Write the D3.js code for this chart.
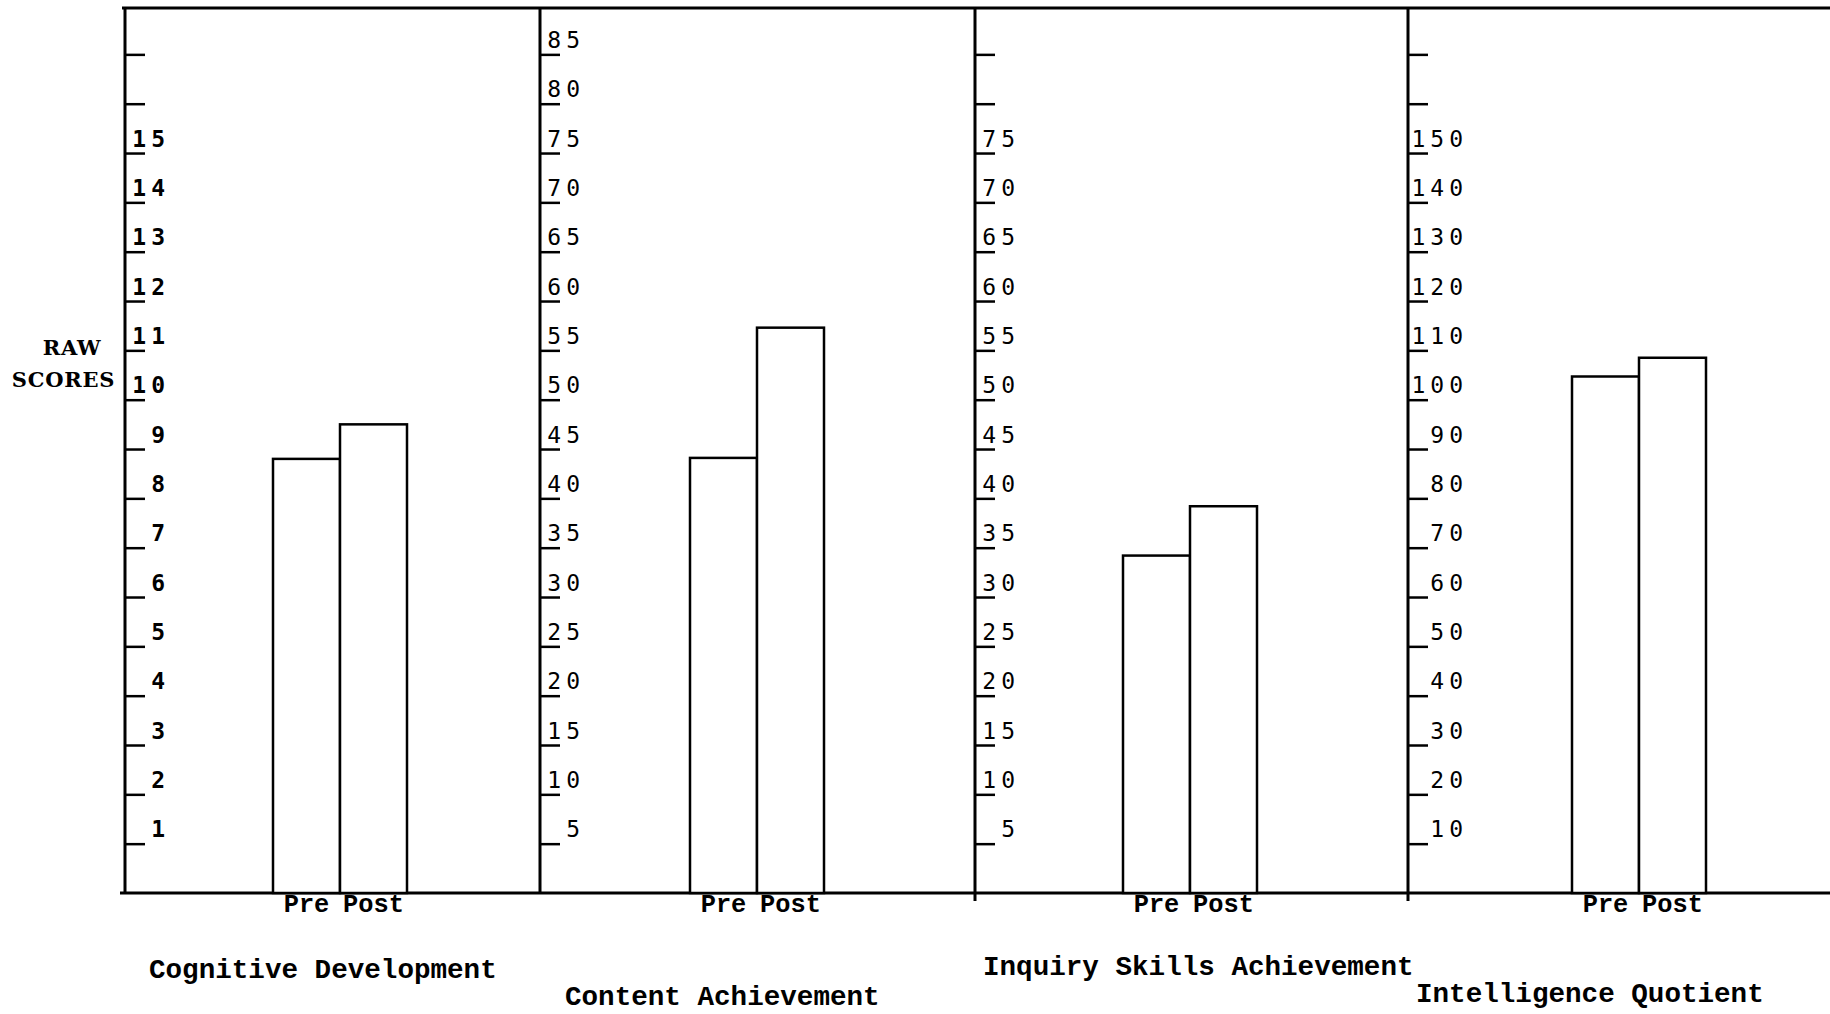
<!DOCTYPE html>
<html><head><meta charset="utf-8">
<script src="https://cdn.jsdelivr.net/npm/d3@7"></script>
<style>html,body{margin:0;padding:0;background:#fff}svg{display:block}</style>
</head><body><svg id="chart" width="1830" height="1014"></svg>
<script>
// ---- data ----
const categories = ["Cognitive Development", "Content Achievement", "Inquiry Skills Achievement", "Intelligence Quotient"];
const phases = ["Pre", "Post"];
const preScores = [8.8, 44.1, 34.2, 104.7];
const postScores = [9.5, 57.3, 39.2, 108.5];
const tickSteps = [1, 5, 5, 10];
const tickCount = 17;
const labelMax = [15, 85, 75, 150];
const yAxisTitle = ["RAW", "SCORES"];

// ---- layout ----
const W = 1830, H = 1014;
const plotTop = 8, plotBase = 893, unitMax = 17.94;
const panelLeft = [125, 540, 975, 1408];
const barOffset = [148, 150, 148, 164];
const barPairWidth = 134;
const labelRight = [40, 40, 40, 55];
const labelWeight = ["bold", "normal", "normal", "normal"];
const titleDx = [24, 25, 8, 8];
const titleY = [978, 1005, 975, 1002];

const svg = d3.select("#chart");
svg.append("rect").attr("width", W).attr("height", H).attr("fill", "#fff");

// frame lines
svg.append("line").attr("x1", 122).attr("x2", W).attr("y1", plotTop).attr("y2", plotTop)
  .attr("stroke", "#000").attr("stroke-width", 3);
svg.append("line").attr("x1", 120).attr("x2", W).attr("y1", plotBase).attr("y2", plotBase)
  .attr("stroke", "#000").attr("stroke-width", 3);

categories.forEach((cat, i) => {
  const step = tickSteps[i];
  const y = d3.scaleLinear().domain([0, unitMax * step]).range([plotBase, plotTop]);
  const x = d3.scaleBand().domain(phases)
    .range([panelLeft[i] + barOffset[i], panelLeft[i] + barOffset[i] + barPairWidth]).padding(0);
  const vals = [preScores[i], postScores[i]];

  const g = svg.append("g");

  // vertical axis line
  g.append("line").attr("x1", panelLeft[i]).attr("x2", panelLeft[i])
    .attr("y1", plotTop - 1).attr("y2", plotBase + (i >= 2 ? 8 : 1))
    .attr("stroke", "#000").attr("stroke-width", 3);

  // ticks
  const axis = d3.axisRight(y)
    .tickValues(d3.range(1, tickCount + 1).map(k => k * step))
    .tickSize(20)
    .tickFormat(d => d <= labelMax[i] ? d3.format("d")(d) : "");
  const ag = g.append("g").attr("transform", `translate(${panelLeft[i]},0)`).call(axis);
  ag.select(".domain").remove();
  ag.selectAll(".tick line").attr("stroke", "#000").attr("stroke-width", 2.5);
  ag.attr("font-family", "'DejaVu Sans Mono', monospace").attr("font-size", 23);
  ag.selectAll(".tick text")
    .attr("x", labelRight[i] + 5)
    .attr("dy", -7)
    .attr("text-anchor", "end")
    .attr("fill", "#000")
    .attr("font-weight", labelWeight[i])
    .style("letter-spacing", "5px");

  // bars
  g.selectAll("rect.bar").data(phases).enter().append("rect")
    .attr("class", "bar")
    .attr("x", p => x(p))
    .attr("y", (p, j) => y(vals[j]))
    .attr("width", x.bandwidth())
    .attr("height", (p, j) => plotBase - y(vals[j]))
    .attr("fill", "#fff").attr("stroke", "#000").attr("stroke-width", 2.5);

  // phase labels
  g.selectAll("text.phase").data(phases).enter().append("text")
    .attr("class", "phase")
    .attr("x", p => x(p) + x.bandwidth() / 2)
    .attr("y", 912)
    .attr("text-anchor", "middle")
    .attr("font-family", "'Liberation Mono', 'Courier New', monospace")
    .attr("font-weight", "bold")
    .attr("font-size", 25.4)
    .text(p => p);

  // category title
  g.append("text")
    .attr("x", panelLeft[i] + titleDx[i])
    .attr("y", titleY[i])
    .attr("font-family", "'Liberation Mono', 'Courier New', monospace")
    .attr("font-weight", "bold")
    .attr("font-size", 27.6)
    .text(cat);
});

// y axis title
svg.append("g").selectAll("text").data(yAxisTitle).enter().append("text")
  .attr("x", (d, k) => k === 0 ? 72 : 63.5)
  .attr("y", (d, k) => k === 0 ? 355 : 387)
  .attr("text-anchor", "middle")
  .attr("font-family", "'DejaVu Serif', serif")
  .attr("font-weight", "bold")
  .attr("font-size", 21)
  .style("letter-spacing", "0.8px")
  .text(d => d);
</script>
</body></html>
